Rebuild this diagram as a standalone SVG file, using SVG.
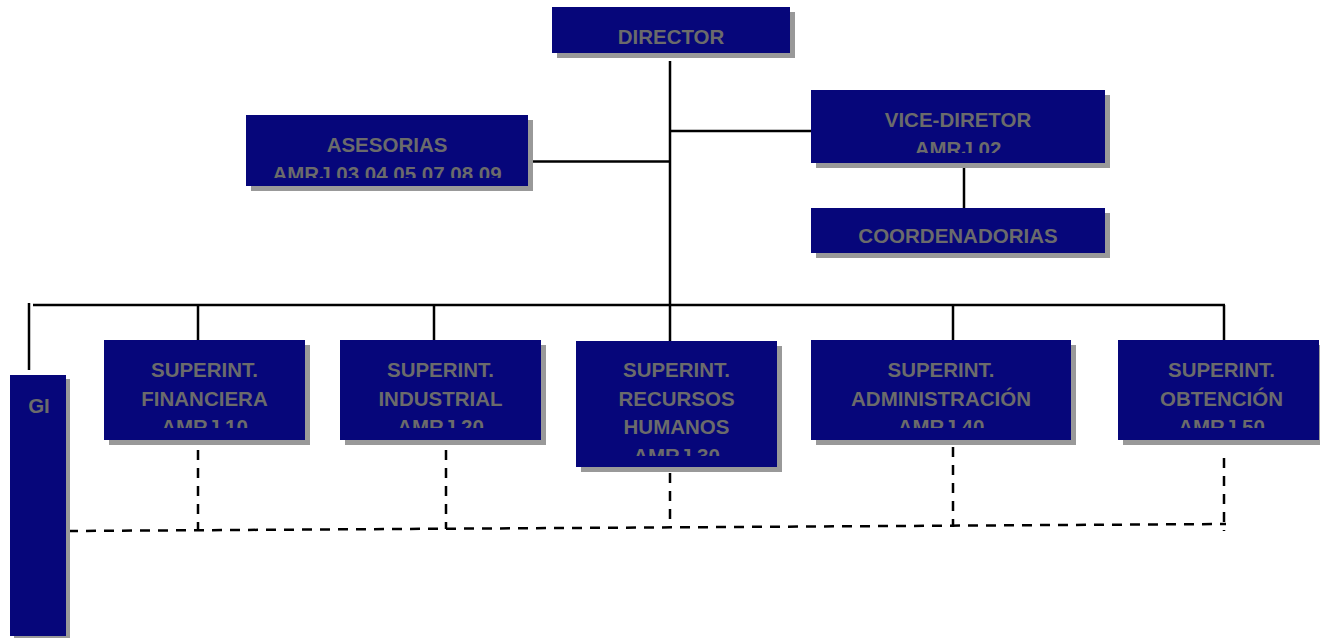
<svg xmlns="http://www.w3.org/2000/svg" width="1320" height="638" viewBox="0 0 1320 638">
  <style>
    .box { fill: #06067a; }
    .shadow { fill: #999999; }
    .lbl { font-family: "Liberation Sans", Arial, sans-serif; font-weight: bold; font-size: 20.5px; fill: #6b6b6b; text-anchor: middle; }
    .solid { stroke: #000000; stroke-width: 2.5; fill: none; }
    .dash { stroke: #000000; stroke-width: 2.5; fill: none; stroke-dasharray: 10 8; }
  </style>
  <defs>
    <clipPath id="clip-ases"><rect x="246" y="115" width="282" height="63"/></clipPath>
    <clipPath id="clip-vice"><rect x="811" y="90" width="294" height="63"/></clipPath>
    <clipPath id="clip-fin"><rect x="104" y="340" width="201" height="88"/></clipPath>
    <clipPath id="clip-ind"><rect x="340" y="340" width="201" height="88"/></clipPath>
    <clipPath id="clip-rh"><rect x="576" y="341" width="201" height="115"/></clipPath>
    <clipPath id="clip-adm"><rect x="811" y="340" width="260" height="88"/></clipPath>
    <clipPath id="clip-obt"><rect x="1118" y="340" width="201" height="88"/></clipPath>
  </defs>
  <rect width="1320" height="638" fill="#ffffff"/>

  <!-- connectors -->
  <g id="connectors">
    <line class="solid" x1="670" y1="61" x2="670" y2="341"/>
    <line class="solid" x1="528" y1="161.5" x2="670" y2="161.5"/>
    <line class="solid" x1="670" y1="131" x2="811" y2="131"/>
    <line class="solid" x1="964" y1="167" x2="964" y2="208"/>
    <line class="solid" x1="33" y1="305" x2="1225" y2="305"/>
    <line class="solid" x1="29" y1="303" x2="29" y2="370"/>
    <line class="solid" x1="198" y1="305" x2="198" y2="340"/>
    <line class="solid" x1="434" y1="305" x2="434" y2="340"/>
    <line class="solid" x1="953" y1="305" x2="953" y2="340"/>
    <line class="solid" x1="1224" y1="305" x2="1224" y2="340"/>
    <!-- dotted-line liaison to GI -->
    <line class="dash" x1="68" y1="531" x2="1226" y2="524"/>
    <line class="dash" x1="198" y1="450" x2="198" y2="531"/>
    <line class="dash" x1="446" y1="450" x2="446" y2="529"/>
    <line class="dash" x1="670" y1="473" x2="670" y2="528"/>
    <line class="dash" x1="953" y1="447" x2="953" y2="527"/>
    <line class="dash" x1="1224" y1="458" x2="1224" y2="531"/>
  </g>

  <g id="director">
    <rect class="shadow" x="557" y="12" width="238" height="46"/>
    <rect class="box" x="552" y="7" width="238" height="46"/>
    <text class="lbl" x="671" y="44">DIRECTOR</text>
  </g>

  <g id="asesorias">
    <rect class="shadow" x="251" y="120" width="282" height="71"/>
    <rect class="box" x="246" y="115" width="282" height="71"/>
    <g clip-path="url(#clip-ases)">
      <text class="lbl" x="387" y="152">ASESORIAS</text>
      <text class="lbl" x="387" y="181">AMRJ 03 04 05 07 08 09</text>
    </g>
  </g>

  <g id="vice-diretor">
    <rect class="shadow" x="816" y="95" width="294" height="73"/>
    <rect class="box" x="811" y="90" width="294" height="73"/>
    <g clip-path="url(#clip-vice)">
      <text class="lbl" x="958" y="127">VICE-DIRETOR</text>
      <text class="lbl" x="958" y="156">AMRJ 02</text>
    </g>
  </g>

  <g id="coordenadorias">
    <rect class="shadow" x="816" y="213" width="294" height="45"/>
    <rect class="box" x="811" y="208" width="294" height="45"/>
    <text class="lbl" x="958" y="243">COORDENADORIAS</text>
  </g>

  <g id="gi">
    <rect class="shadow" x="14" y="379" width="56" height="261"/>
    <rect class="box" x="10" y="375" width="56" height="261"/>
    <text class="lbl" x="39" y="413">GI</text>
  </g>

  <g id="financiera">
    <rect class="shadow" x="109" y="345" width="201" height="100"/>
    <rect class="box" x="104" y="340" width="201" height="100"/>
    <g clip-path="url(#clip-fin)">
      <text class="lbl" x="204.5" y="377">SUPERINT.</text>
      <text class="lbl" x="204.5" y="405.5">FINANCIERA</text>
      <text class="lbl" x="204.5" y="434">AMRJ 10</text>
    </g>
  </g>

  <g id="industrial">
    <rect class="shadow" x="345" y="345" width="201" height="100"/>
    <rect class="box" x="340" y="340" width="201" height="100"/>
    <g clip-path="url(#clip-ind)">
      <text class="lbl" x="440.5" y="377">SUPERINT.</text>
      <text class="lbl" x="440.5" y="405.5">INDUSTRIAL</text>
      <text class="lbl" x="440.5" y="434">AMRJ 20</text>
    </g>
  </g>

  <g id="recursos-humanos">
    <rect class="shadow" x="581" y="346" width="201" height="126"/>
    <rect class="box" x="576" y="341" width="201" height="126"/>
    <g clip-path="url(#clip-rh)">
      <text class="lbl" x="676.5" y="377">SUPERINT.</text>
      <text class="lbl" x="676.5" y="405.5">RECURSOS</text>
      <text class="lbl" x="676.5" y="434">HUMANOS</text>
      <text class="lbl" x="676.5" y="462.5">AMRJ 30</text>
    </g>
  </g>

  <g id="administracion">
    <rect class="shadow" x="816" y="345" width="260" height="100"/>
    <rect class="box" x="811" y="340" width="260" height="100"/>
    <g clip-path="url(#clip-adm)">
      <text class="lbl" x="941" y="377">SUPERINT.</text>
      <text class="lbl" x="941" y="405.5">ADMINISTRACIÓN</text>
      <text class="lbl" x="941" y="434">AMRJ 40</text>
    </g>
  </g>

  <g id="obtencion">
    <rect class="shadow" x="1123" y="345" width="201" height="100"/>
    <rect class="box" x="1118" y="340" width="201" height="100"/>
    <g clip-path="url(#clip-obt)">
      <text class="lbl" x="1221.5" y="377">SUPERINT.</text>
      <text class="lbl" x="1221.5" y="405.5">OBTENCIÓN</text>
      <text class="lbl" x="1221.5" y="434">AMRJ 50</text>
    </g>
  </g>
</svg>
